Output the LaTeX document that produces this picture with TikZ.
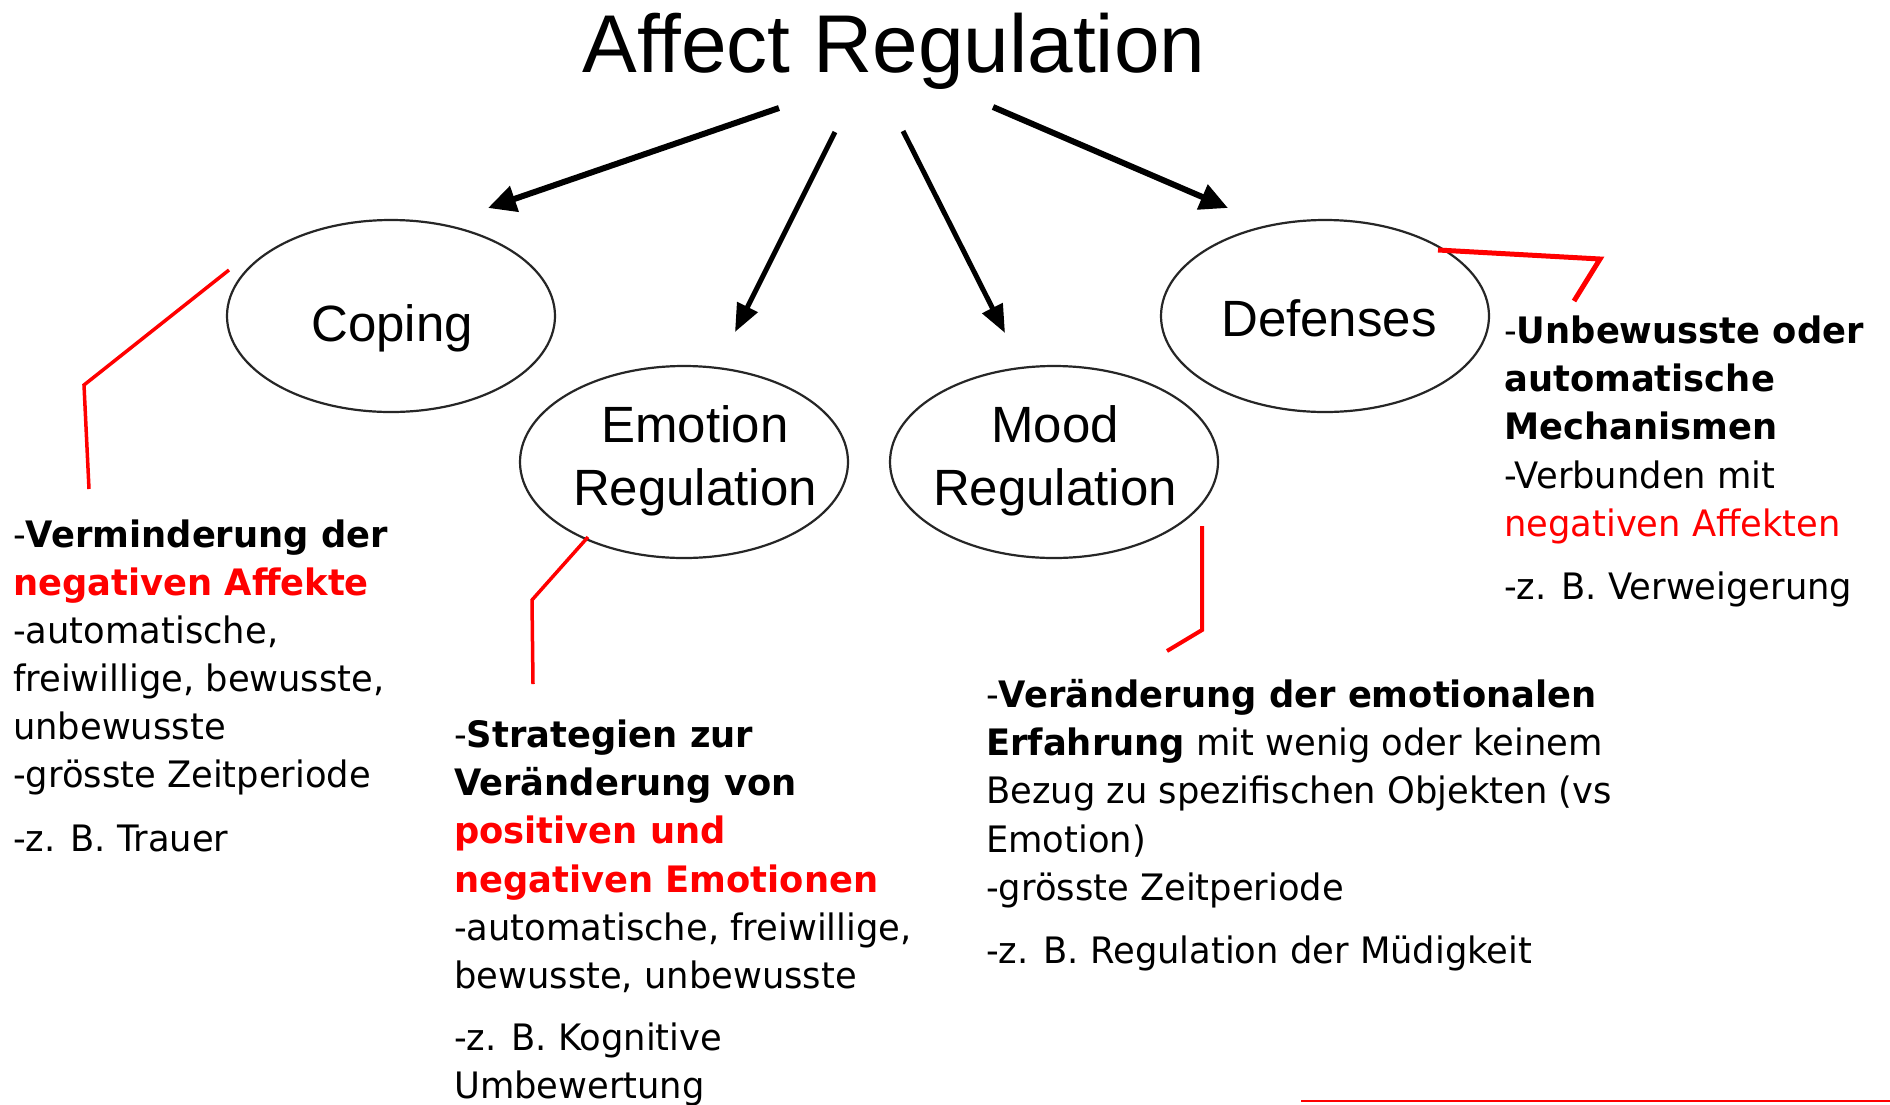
\documentclass[tikz,border=0pt]{standalone}
\usepackage{fontspec}
\setmainfont{Liberation Sans}
\newfontfamily\tah[FakeStretch=0.97]{DejaVu Sans}
\usetikzlibrary{arrows.meta,shapes.geometric}
\definecolor{myred}{RGB}{255,0,0}
\begin{document}
\begin{tikzpicture}[x=1pt,y=-1pt,
  oval/.style={draw=black!85, line width=2.2pt, ellipse, minimum width=328pt, minimum height=192pt, inner sep=0pt},
  lab/.style={font=\fontsize{51}{63}\selectfont, inner sep=0pt, anchor=base},
  arr/.style={line width=6pt, -{Triangle[length=28pt,width=26pt]}},
  arrthin/.style={line width=5pt, -{Triangle[length=28pt,width=22pt]}},
  callout/.style={draw=myred, line width=3.5pt},
  ln/.style={font=\tah\fontsize{36.4}{40}\selectfont, inner sep=0pt, anchor=base west},
  hl/.style={text=myred},
]
\useasboundingbox (0,0) rectangle (1890,1104);
\fill[white] (0,0) rectangle (1890,1104);

% title
\node[font=\fontsize{82}{90}\selectfont, inner sep=0pt, anchor=base] (title) at (894,72) {Affect Regulation};

% ellipses
\node[oval] (cop) at (391,316) {};
\node[oval] (emo) at (684,462) {};
\node[oval] (moo) at (1054,462) {};
\node[oval] (def) at (1325,316) {};

\node[lab] (copt) at (392,341) {Coping};
\node[lab] (deft) at (1329,336) {Defenses};
\node[lab] (emot1) at (695,442) {Emotion};
\node[lab] (emot2) at (695,505) {Regulation};
\node[lab] (moot1) at (1055,442) {Mood};
\node[lab] (moot2) at (1055,505) {Regulation};

% arrows
\coordinate (a1s) at (779,108); \coordinate (a1e) at (488,208);
\coordinate (a2s) at (835,132); \coordinate (a2e) at (735,332);
\coordinate (a3s) at (903,131); \coordinate (a3e) at (1005,333);
\coordinate (a4s) at (993,107); \coordinate (a4e) at (1228,208);
\draw[arr] (a1s) -- (a1e);
\draw[arrthin] (a2s) -- (a2e);
\draw[arrthin] (a3s) -- (a3e);
\draw[arr] (a4s) -- (a4e);

% red callouts
\coordinate (c1a) at (229,270); \coordinate (c1b) at (84,385); \coordinate (c1c) at (89,489);
\coordinate (c2a) at (588,537); \coordinate (c2b) at (532,600); \coordinate (c2c) at (533,684);
\coordinate (c3a) at (1202,526); \coordinate (c3b) at (1202,630); \coordinate (c3c) at (1167,651);
\coordinate (c4a) at (1438,250); \coordinate (c4b) at (1600,259); \coordinate (c4c) at (1574,301);
\coordinate (c5a) at (1301,1101); \coordinate (c5b) at (1890,1101);
\draw[callout] (c1a) -- (c1b) -- (c1c);
\draw[callout] (c2a) -- (c2b) -- (c2c);
\draw[callout, line width=4pt] (c3a) -- (c3b) -- (c3c);
\draw[callout, line width=5pt] (c4a) -- (c4b) -- (c4c);
\draw[callout, line width=2.5pt] (c5a) -- (c5b);

% Coping text
\node[ln] (l1) at (13,547) {-\textbf{Verminderung der}};
\node[ln,hl] (l2) at (13,595) {\textbf{negativen Affekte}};
\node[ln] (l3) at (13,643) {-automatische,};
\node[ln] (l4) at (13,691) {freiwillige, bewusste,};
\node[ln] (l5) at (13,739) {unbewusste};
\node[ln] (l6) at (13,787) {-grösste Zeitperiode};
\node[ln] (l7) at (13,851) {-z. B. Trauer};

% Emotion text
\node[ln] (e1) at (454,747) {-\textbf{Strategien zur}};
\node[ln] (e2) at (454,795) {\textbf{Veränderung von}};
\node[ln,hl] (e3) at (454,843) {\textbf{positiven und}};
\node[ln,hl] (e4) at (454,892) {\textbf{negativen Emotionen}};
\node[ln] (e5) at (454,940) {-automatische, freiwillige,};
\node[ln] (e6) at (454,988) {bewusste, unbewusste};
\node[ln] (e7) at (454,1050) {-z. B. Kognitive};
\node[ln] (e8) at (454,1098) {Umbewertung};

% Mood text
\node[ln] (m1) at (986,707) {-\textbf{Veränderung der emotionalen}};
\node[ln] (m2) at (986,755) {\textbf{Erfahrung} mit wenig oder keinem};
\node[ln] (m3) at (986,803) {Bezug zu spezifischen Objekten (vs};
\node[ln] (m4) at (986,852) {Emotion)};
\node[ln] (m5) at (986,900) {-grösste Zeitperiode};
\node[ln] (m6) at (986,963) {-z. B. Regulation der Müdigkeit};

% Defenses text
\node[ln] (d1) at (1504,343) {-\textbf{Unbewusste oder}};
\node[ln] (d2) at (1504,391) {\textbf{automatische}};
\node[ln] (d3) at (1504,439) {\textbf{Mechanismen}};
\node[ln] (d4) at (1504,488) {-Verbunden mit};
\node[ln,hl] (d5) at (1504,536) {negativen Affekten};
\node[ln] (d6) at (1504,599) {-z. B. Verweigerung};
\end{tikzpicture}
\end{document}
